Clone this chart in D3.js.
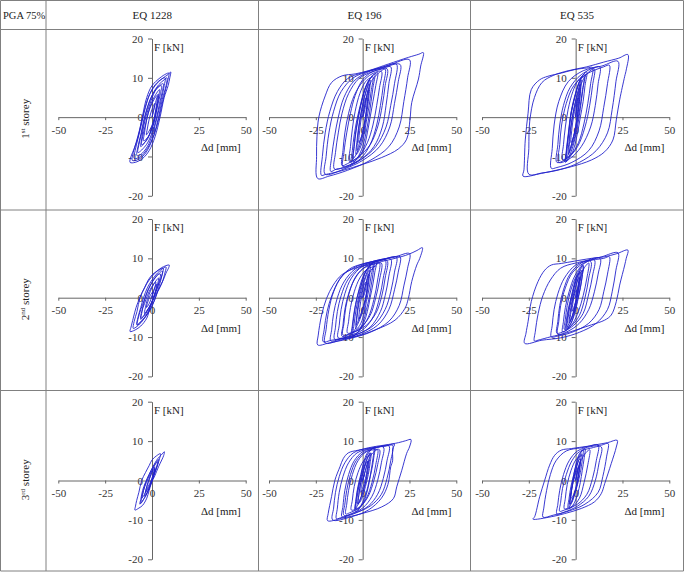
<!DOCTYPE html>
<html><head><meta charset="utf-8">
<script src="https://cdn.jsdelivr.net/npm/d3@7"></script>
<style>
html,body{margin:0;padding:0;background:#fff;}
svg{display:block;}
</style></head>
<body>
<script>
// ---------- data ----------
const cornerLabel = "PGA 75%";
const columns = ["EQ 1228", "EQ 196", "EQ 535"];
const rowNums = ["1", "2", "3"];
const rowSups = ["st", "nd", "rd"];
const xTicks = [-50, -25, 0, 25, 50];
const yTicks = [-20, -10, 0, 10, 20];
const xLabel = "Δd [mm]";
const yLabel = "F [kN]";

// hysteresis paths [Δd mm, F kN]
const s1_eq1228 = [[0,0],[1.5,3],[3,5.5],[2.5,3.5],[1.5,0.5],[0,-2.5],[-2,-5],[-4.5,-6],[-4,-4],[-3,-1],[-1.5,2],[0.5,4.5],[4,7],[3.5,5],[2.5,2],[1,-1.5],[-1.5,-4.5],[-4,-6.5],[-6,-7.5],[-5.5,-5.5],[-4.5,-2.5],[-3,0.5],[-1,3.5],[1.5,6.5],[4,8],[6,8.5],[5.5,6.5],[4,3.5],[2.5,0],[0,-4],[-3,-7],[-7.5,-9],[-7,-7],[-5.5,-4],[-4,-0.5],[-2,3],[0.5,6],[3.5,8.2],[6.5,9.5],[8,10],[7.5,8],[5.5,4.5],[3.5,0],[1,-4.5],[-2.5,-8],[-6,-10],[-9.5,-10.5],[-9,-8.5],[-7.5,-5.5],[-5.5,-1.5],[-3.5,2.5],[-1,6],[2.5,8.5],[6,10],[8.5,10.8],[10,11.5],[9.5,10],[8.6,8],[6.5,5],[4.3,0],[1.6,-5],[-1.5,-8.5],[-5,-10.5],[-9,-11.5],[-11.7,-11.5],[-11.2,-10],[-9.5,-8],[-7.4,-5],[-5.2,0],[-2.8,5],[0,8],[4.3,10],[7.5,11],[9,11.2],[8.5,9.5],[7,6.5],[5,2.5],[2.5,-2.5],[-0.5,-6.5],[-4,-9.5],[-7.5,-10.8],[-10.5,-11],[-10,-9],[-8.5,-6.5],[-6.5,-3],[-4.5,1],[-2,5],[1,7.8],[4.5,9.5],[7,10],[6.5,8],[5,4.5],[3,0.5],[0.5,-4],[-2.5,-7.5],[-6,-9.5],[-8,-9.8],[-7.5,-7.5],[-6,-4.5],[-4.5,-1],[-2.5,2.5],[0,5.5],[3,7.5],[5,8],[4.5,6],[3,3],[1.5,-0.5],[-0.5,-3.5],[-3,-6],[-5.5,-7],[-5,-5],[-3.5,-2],[-2,1],[0,3.5],[2.5,5.5],[3.5,5.8],[3,4],[2,1.5],[0.5,-1.5],[-1.5,-3.5],[-3,-4.5],[-2.5,-3],[-1.5,-0.5],[0,2],[1.5,3.5],[1,2],[0,0]];

const s1_eq196_core = [[0,0],[1.5,4],[3,7],[2.5,4],[1.5,0],[0,-4],[-2,-7],[-3,-8.5],[-2.5,-5],[-1.5,-1],[0,3],[2,7],[4,9.5],[3.5,6],[2.5,2],[1,-2.5],[-1,-6.5],[-3.5,-9.5],[-5,-10.5],[-4.5,-7],[-3.5,-3],[-2,1],[0,5],[2.5,8.5],[5,10.5],[6.5,11],[5.5,7.5],[4.5,4],[3.5,0.5],[2,-3.5],[0,-7.5],[-3,-10.5],[-6,-11.8],[-5.5,-8.5],[-4.5,-4.5],[-3,-0.5],[-1,3.5],[1,7],[3.5,9.5],[6,10.8],[8,11.3],[7,8],[5.5,4],[4,0],[2.5,-4],[0.5,-8],[-2.5,-10.5],[-5,-11.3],[-4.5,-7.5],[-3.5,-3.5],[-2,0.5],[-0.5,4],[1.5,7.5],[4,9.8],[5.5,10.3],[4.5,6.5],[3.5,3],[2,-1],[0.5,-5],[-1.5,-8],[-3.5,-9.5],[-3,-6],[-2,-2],[-0.5,2],[1.5,6],[3.5,8.5],[3,5.5],[2,1.5],[0.5,-2.5],[-1,-5.5],[-2,-6.5],[-1.5,-3],[-0.5,0.5],[1,4],[2,5],[1,1.5],[0,0]];
const s1_eq196 = [[0,0],[2,5],[4.5,9],[8,11],[12,12.2],[11,8],[9.5,3],[7.5,-2],[4,-7],[-1,-10.5],[-7,-12.2],[-10.5,-12.6],[-10,-9],[-8.5,-4],[-6.5,1],[-4,5.5],[0,9.5],[5,11.5],[10,12.2],[15,12.8],[14,8.5],[12.5,3],[10.5,-2.5],[6,-7.5],[-1,-10.8],[-9,-12.8],[-14,-13.2],[-17,-13.8],[-16.5,-10],[-15,-5],[-13,0],[-10,5],[-5,9],[2,11.3],[11,12.6],[20,13.4],[19,9],[17,3.5],[14.5,-2.5],[9,-7.5],[0,-11],[-10,-13.2],[-20,-14.5],[-19.5,-10],[-18,-4],[-15.5,1.5],[-11.5,6.5],[-5,10],[4,11.8],[14,13.2],[25,14.6],[24,10],[22,4],[19.5,-2.5],[14,-7.5],[4,-11],[-8,-13.5],[-18,-15],[-24,-15.6],[-24.6,-10],[-24.4,-5],[-23.4,0],[-20,5.4],[-16.6,8.8],[-11,10.5],[-4,11],[3,11.8],[13.7,13.5],[24.4,15.2],[30,16],[32.4,16.4],[31,13],[29.8,9.7],[26.2,3.7],[25.3,-0.5],[23.5,-5.6],[19,-8.1],[10,-10.3],[0,-12],[-11,-13.6],[-20,-14.6],[-22,-14.8],[-21.5,-10],[-20,-4],[-17.5,1.5],[-13.5,6.5],[-8,9.8],[0,11.3],[10,12.6],[18,13.5],[17,8.5],[15,3],[12.5,-2.5],[7,-7.5],[-1,-10.8],[-9,-12.5],[-15,-13.2],[-14.5,-9],[-13,-4],[-11,1],[-7.5,6],[-2,9.8],[5,11.5],[13,12.3],[12,8],[10.5,3],[8,-2.5],[4,-7],[-2,-10],[-8,-11.8],[-11,-12.3],[-10.5,-8.5],[-9.5,-4],[-7.5,1],[-4.5,5.5],[0,9],[5,11],[10,11.6],[9,7.5],[7.5,3],[5.5,-2],[2.5,-6.5],[-2,-10],[-7,-11.3],[-6.5,-7.5],[-5.5,-3],[-4,1.5],[-1.5,6],[1.5,9],[4,10]];

const s1_eq535_core = [[0,0],[1,4],[2.5,7.5],[2,4],[1,0],[-0.5,-4],[-2.5,-7.5],[-3.5,-9],[-3,-5],[-2,-1],[-0.5,3],[1.5,7],[3,9.5],[2.5,6],[1.5,2],[0,-2.5],[-2,-6.5],[-4,-9.5],[-5,-10.5],[-4.5,-7],[-3.5,-3],[-2.5,1],[-0.5,5],[1.5,8.5],[3.5,10.5],[5,11],[4,7.5],[3,4],[2,0.5],[0.5,-3.5],[-1.5,-7.5],[-3.5,-10],[-5.5,-11.5],[-5,-8.5],[-4,-4.5],[-3,-0.5],[-1.5,3.5],[0.5,7],[2.5,9.5],[4.5,11],[6,11.5],[5,8],[4,4],[2.5,0],[1,-4],[-1,-8],[-3.5,-10.5],[-5,-11.3],[-4.5,-7.5],[-3.5,-3.5],[-2.5,0.5],[-1,4],[1,7.5],[3,9.8],[4.5,10.3],[3.5,6.5],[2.5,3],[1,-1],[-0.5,-5],[-2.5,-8],[-4,-9.5],[-3.5,-6],[-2.5,-2],[-1,2],[1,6],[2.5,8.5],[2,5.5],[1,1.5],[0,-2.5],[-1.5,-5.5],[-2.5,-6.5],[-2,-3],[-1,0.5],[0.5,4],[1.5,5],[0.5,1.5],[0,0]];
const s1_eq535 = [[0,0],[1,5],[3,8.5],[6,11],[10,12.3],[9,8],[7.5,3],[5,-2.5],[1,-7.5],[-4,-10.3],[-10,-11.5],[-9.5,-7],[-8.5,-2],[-6.5,3],[-3,7.5],[3,10.8],[12.8,12.8],[12,8.5],[10.5,3],[8,-2.5],[3,-7.5],[-3,-10.5],[-9,-11.5],[-8.5,-7],[-7.5,-2],[-5,3.5],[-1,8],[6,11],[15,12.8],[18,13.2],[17,8.5],[15,2.5],[12.5,-3.5],[7,-8.5],[-2,-11.5],[-10,-12.8],[-13,-13],[-12.5,-8],[-11.5,-2],[-9,4],[-4,9],[4,11.8],[14,13],[22.6,14.2],[21.5,9],[19.5,2],[17,-4],[11,-8.5],[2,-11.5],[-8,-13.3],[-18,-14.2],[-25,-14.5],[-25,-8],[-24.5,-1],[-22,5],[-18,8.8],[-12,10.6],[-4,11.8],[6,12.8],[15,14],[23,15],[27.9,15.9],[27,12],[26.2,10.4],[23.5,4.4],[21.7,-0.7],[19.9,-5.8],[15.5,-8.8],[8.4,-10.9],[-2.3,-12.6],[-9.4,-13.4],[-18.3,-14.3],[-28.1,-15],[-27.6,-13.4],[-26.9,-5.8],[-25.4,1],[-23.7,7],[-19.2,9.5],[-14.8,10.4],[-7.7,11.2],[-0.5,12.1],[6,12.5],[9,12.6],[8,8.5],[6.5,3.5],[4.5,-1.5],[1.5,-6.5],[-2.5,-9.5],[-7,-10.8],[-6.5,-7],[-5.5,-2.5],[-4,2],[-1.5,6.5],[1.5,9.5],[4,10.5]];

const s2_eq1228 = [[0,0],[1,2],[2.5,3.5],[2,2],[0.5,-0.5],[-1.5,-2.5],[-4,-4],[-3.5,-2.5],[-2.5,-0.5],[-1,1.5],[1,3.5],[3.5,5],[3,3.5],[1.5,1],[-0.5,-1.5],[-3,-3.5],[-6,-5.5],[-5.5,-4],[-4.5,-1.5],[-3,1],[-0.5,3.5],[2.5,5.5],[5.5,6.8],[5,5],[3.5,2.5],[1.5,-0.5],[-1,-3],[-4,-5],[-8,-6.8],[-7.5,-5],[-6,-2.5],[-4.5,0],[-2.5,2.5],[0,4.5],[3,6.3],[6,7.5],[7.5,7.8],[7,6.5],[5.5,4],[3,1.5],[1,-1],[-1.5,-3.5],[-4.5,-5.5],[-8,-7.3],[-10,-7.8],[-9.5,-6],[-8,-3.5],[-6.4,0],[-4,2.5],[-1.5,4.5],[1.5,6.2],[5,7.6],[9.2,8.3],[8.8,7.5],[7.8,6.6],[6,4.5],[3.5,2],[1.1,0],[-1,-2.5],[-2.8,-5.2],[-6,-7.2],[-9,-8.2],[-11.7,-8.6],[-11.2,-7.5],[-10,-5.2],[-8.5,-2.5],[-6.5,0],[-4,2.5],[-2,4.5],[0.5,6],[3.5,7],[6,7.5],[5.5,6],[4,4],[2,1.5],[0,-1],[-2,-3.5],[-5,-5.8],[-8,-7],[-7.5,-5.5],[-6,-3],[-4,-0.5],[-2,2],[0.5,4.3],[3,5.8],[4.5,6],[4,4.5],[2.5,2],[0.5,-0.5],[-1.5,-2.5],[-4,-4.5],[-6,-5.2],[-5.5,-3.5],[-4,-1.5],[-2.5,0.5],[-0.5,2.5],[2,4],[1.5,2.5],[0,0.5],[-1.5,-1.5],[-3,-2.5],[-2.5,-1.5],[-1,0.5],[0.5,1.5],[0,0]];

const s2_eq196_core = [[0,0],[1.5,3],[3,6],[2.5,3],[1.5,-0.5],[-0.5,-3.5],[-2.5,-6],[-3.5,-7],[-3,-4],[-2,-0.5],[-0.5,2.5],[1.5,5.5],[4,8],[3.5,5],[2.5,1.5],[1,-2],[-1.5,-5.5],[-4,-8],[-5.5,-9],[-5,-6],[-4,-2.5],[-2.5,1],[-0.5,4.5],[2,7],[4.5,8.5],[6,9],[5.5,6],[4.5,3],[3.5,0],[2,-3],[0,-6.5],[-3,-9],[-6,-10],[-5.5,-7],[-4.5,-3.5],[-3,0],[-1,3],[1,6],[3.5,8],[6,9],[7.5,9.3],[6.5,6.5],[5.5,3.5],[4,0],[2.5,-3.5],[0.5,-6.5],[-2.5,-8.8],[-5,-9.5],[-4.5,-6.5],[-3.5,-3],[-2,0.5],[-0.5,3.5],[1.5,6.5],[4,8.2],[5.5,8.5],[4.5,5.5],[3.5,2.5],[2,-1],[0.5,-4.5],[-1.5,-7],[-3.5,-8],[-3,-5],[-2,-1.5],[-0.5,1.5],[1.5,5],[3.5,7],[3,4.5],[2,1],[0.5,-2],[-1,-4.5],[-2,-5.5],[-1.5,-2.5],[-0.5,0.5],[1,3.5],[2,4],[1,1],[0,0]];
const s2_eq196 = [[0,0],[2,4],[4.5,7],[9,8.8],[8,4.5],[6,-0.5],[3,-5],[-1,-7.8],[-6,-9],[-10.5,-9.5],[-10,-6.5],[-9,-2.5],[-7,1.5],[-3.5,5.5],[2,8],[12,9.5],[11,5],[9,0],[6,-4.5],[1,-7.8],[-5,-9.3],[-13,-10.2],[-12.5,-7],[-11.5,-3],[-9.5,1],[-6,5],[0,8],[8,9.2],[15,9.8],[14,5.5],[12,0.5],[9.5,-3.5],[4,-7.5],[-4,-9.5],[-12,-10.5],[-17,-11],[-16.5,-8],[-15.5,-4],[-13.5,0],[-10,4],[-4,7.3],[6,9.3],[16,10.2],[20,10.4],[19,6.5],[17,2],[14,-3],[8,-7],[-2,-9.5],[-12,-10.8],[-20,-11.5],[-19.5,-8],[-18,-3],[-15.5,1.5],[-11,5.5],[-3,8],[8,9.5],[18,10.5],[25,11.2],[24,7.5],[22,3],[19.5,-2],[14,-6],[4,-8.8],[-8,-10.5],[-18,-11.5],[-24,-12],[-23.7,-9.5],[-21.9,-4.4],[-19.3,-0.2],[-15.7,3.2],[-11.2,5.8],[-4.1,7.5],[3,8.3],[10.2,9.2],[17.3,10],[24.4,11],[29,12],[31.9,12.7],[30.5,10],[28.9,8.3],[26.2,4.1],[24.4,-0.2],[22.6,-2.7],[17.3,-5.7],[6.6,-8.2],[-4.1,-9.9],[-16.6,-10.8],[-21,-11.2],[-20.5,-8],[-19,-3.5],[-16.5,0.5],[-12.5,4.5],[-7,7.3],[0,8.6],[10,9.6],[18,10.3],[17,6.5],[15,1.5],[12,-3],[6,-7],[-3,-9.3],[-12,-10.4],[-15,-10.5],[-14.5,-7.5],[-13.5,-3.5],[-11.5,0.5],[-8,4.5],[-2,7.5],[6,9],[13,9.5],[12,5],[10,0],[7,-4],[2,-7],[-5,-8.8],[-11,-9.8],[-10.5,-7],[-9.5,-3],[-7.5,1],[-4.5,4.5],[0,7.3],[6,8.5],[10,8.8],[9,4.5],[7,0],[4,-4.5],[-1,-7.5],[-8,-9],[-7.5,-6],[-6.5,-2.5],[-4.5,1.5],[-1.5,5],[2.5,7.3],[7,8]];

const s2_eq535_core = [[0,0],[1,2.5],[2,5],[1.5,2.5],[0.5,-0.5],[-1,-3.5],[-2.5,-5.5],[-3.5,-6.5],[-3,-4],[-2,-1],[-0.5,2],[1,4.5],[2.5,6.5],[2,4],[1,1],[-0.5,-2],[-2,-5],[-4,-7],[-5,-7.8],[-4.5,-5.5],[-3.5,-2.5],[-2,0.5],[-0.5,3.5],[1.5,6],[3,7.5],[4,8],[3.5,5.5],[2.5,2.5],[1,-0.5],[-0.5,-3.5],[-2.5,-6.5],[-4.5,-8],[-5.5,-8.3],[-5,-6],[-4,-3],[-2.5,0],[-1,3],[0.5,5.5],[2.5,7.5],[4,8.3],[3.5,5.5],[2.5,2.5],[1,-1],[-0.5,-4],[-2.5,-6.5],[-4.5,-7.5],[-4,-5],[-3,-2],[-1.5,1],[0,4],[2,6.5],[3,7],[2.5,4.5],[1.5,1.5],[0,-1.5],[-1.5,-4.5],[-3,-6],[-2.5,-3.5],[-1.5,-0.5],[0,2.5],[1.5,5],[2,5.3],[1.5,3],[0.5,0],[-1,-2.5],[-2,-3.5],[-1.5,-1.5],[-0.5,1],[0.5,2],[0,0]];
const s2_eq535 = [[0,0],[2,4],[4.5,7.5],[7,8.8],[6,5],[4,0.5],[1.5,-3.5],[-1.5,-6.5],[-5,-8.3],[-7,-8.7],[-6.5,-6],[-5.5,-2.5],[-3.5,1.5],[-0.5,5.5],[4,8.5],[10,9.6],[9,5.5],[7,1],[4,-4],[-1,-7],[-6,-8.5],[-10,-9],[-9.5,-6],[-8.5,-2],[-6.5,2],[-3,6],[3,8.8],[13,10],[12,6],[10,1.5],[7,-3],[2,-6.5],[-4,-8.5],[-9.5,-9.3],[-9,-6],[-8,-2],[-5.5,2.5],[-1.5,6.5],[6,9.2],[15,10],[18,10.4],[17,6],[15,1.5],[12.5,-3],[7,-6.5],[-2,-8.8],[-10,-9.8],[-13,-10],[-12.5,-7],[-11.5,-3],[-9.5,1],[-6,5],[0,8.3],[8,9.6],[14,10.4],[22.6,11.4],[21.5,7],[19.5,1.5],[17,-3],[11,-6.5],[2,-8.8],[-8,-10.2],[-18,-10.8],[-27.2,-11.6],[-26.5,-9],[-25.4,-6.1],[-23.7,-1],[-20.1,4.1],[-16.5,7],[-13,8.3],[-7.7,8.7],[-0.5,9.3],[8.4,10],[15.5,10.4],[22,11.2],[27.9,12.1],[27,10],[26.2,8.3],[23.5,3.2],[21.7,-1],[19,-4.4],[15.5,-5.7],[8.4,-6.9],[-5.9,-9.1],[-13,-9.9],[-20.1,-10.8],[-22,-11],[-21.5,-8.5],[-20,-4],[-17.5,0.5],[-13.5,4.5],[-8,7.5],[0,8.8],[8,9.2],[7,5],[5,0],[2,-4.5],[-2,-7],[-6,-8],[-5.5,-5.5],[-4.5,-2],[-2.5,2],[0.5,5.5],[4,7]];

const s3_eq1228 = [[0,0],[0.5,1.5],[1.5,3],[1,1.5],[-0.5,-0.5],[-2,-2],[-3.5,-3],[-3,-2],[-2,-0.5],[-0.5,1.5],[1.5,3.5],[1,2],[-0.5,0],[-2,-1.5],[-4,-3.5],[-5.5,-4.5],[-5,-3.5],[-4,-1.5],[-2.5,0.5],[-0.5,2.5],[2,4.5],[3.5,5.3],[3,4],[1.5,2],[0,0],[-1.5,-2],[-3.5,-4],[-6.5,-6],[-6,-4.8],[-5,-2.5],[-3.5,-0.5],[-1.5,1.5],[0.5,3.5],[3,5.5],[5,6.5],[6.6,7.3],[6.2,6.3],[5.2,5.2],[3.5,3.5],[1.5,1.2],[-0.2,-0.5],[-1.5,-2.5],[-2.8,-4.5],[-5,-6.3],[-7,-7],[-9.1,-7.5],[-8.8,-6.5],[-8.2,-5.1],[-7,-3],[-5.5,0],[-3.5,2],[-1.5,3.8],[0,5.2],[2.5,6.3],[4.5,6.8],[4,5.5],[3,4],[1.5,2],[0,0],[-1.5,-2],[-3.5,-4],[-6,-5.8],[-5.5,-4.5],[-4.5,-2.5],[-3,-0.5],[-1,1.5],[1,3.5],[3,4.8],[2.5,3.5],[1,1.5],[-0.5,-0.5],[-2,-2.5],[-4,-4],[-3.5,-3],[-2.5,-1],[-1,1],[0.5,2.5],[1.5,3],[1,1.5],[0,0],[-1,-1],[-0.5,-0.5],[0,0]];

const s3_eq196_core = [[0,0],[1.5,2.5],[3,5],[2.5,2.5],[1.5,-0.5],[0,-3],[-1.5,-5],[-2.5,-6],[-2,-3.5],[-1,-0.5],[0.5,2.5],[2,5],[4,7],[3.5,4.5],[2.5,1.5],[1,-1.5],[-1,-4.5],[-3,-6.5],[-4,-7.3],[-3.5,-4.5],[-2.5,-1.5],[-1,1.5],[0.5,4.5],[2.5,7],[5,8],[6,8.3],[5.5,5.5],[4.5,2.5],[3.5,-0.5],[2,-3.5],[0,-6],[-2.5,-7.5],[-4,-7.8],[-3.5,-5],[-2.5,-2],[-1,1],[0.5,4],[2.5,6.5],[4.5,7.8],[6.5,8.5],[6,6],[5,3],[3.5,0],[2,-3],[0,-5.5],[-2,-7],[-3.5,-7.3],[-3,-4.5],[-2,-1.5],[-0.5,1.5],[1.5,4.5],[3.5,6.5],[4.5,7],[4,4.5],[3,1.5],[1.5,-1.5],[0,-4],[-1.5,-5.5],[-2.5,-6],[-2,-3.5],[-1,-0.5],[0.5,2.5],[2,4.5],[3,5],[2.5,3],[1.5,0.5],[0,-2],[-1,-3],[-0.5,-1],[0.5,1],[1,1.5],[0,0]];
const s3_eq196 = [[0,0],[2,3.5],[4.5,6.5],[8,7.8],[7,4],[5,-0.5],[2,-4.5],[-2,-7],[-7,-8.2],[-9,-8.5],[-8.5,-6],[-7.5,-2.5],[-5.5,1.5],[-2.5,5],[2,7.3],[11,8.5],[10,4.5],[8,0],[5,-4],[0,-7],[-6,-8.4],[-11,-9.2],[-10.5,-6.5],[-9.5,-2.5],[-7.5,1.5],[-4.5,5],[0,7.3],[7,8.3],[14,8.8],[13,5],[11,0.5],[8,-3.5],[3,-6.5],[-5,-8.5],[-12,-9.5],[-14,-9.7],[-13.5,-7],[-12.5,-3],[-10.5,1],[-7.5,4.5],[-3,7],[4,8.1],[12,8.8],[17,9.2],[16,8],[16,5],[15,3.5],[13.5,-1],[10,-4.5],[3,-7.5],[-6,-9.2],[-16,-10],[-15.5,-7],[-14.5,-3],[-12.5,1],[-9.5,4.5],[-5,7],[3,8.3],[12,9],[19.1,9.6],[23,10.1],[25.8,10.4],[25,8.5],[23.5,6.9],[20.9,2.6],[18.2,-1.6],[16.4,-4.6],[10.2,-6.7],[-0.5,-8.4],[-11.2,-9.6],[-18.7,-10.2],[-18.4,-8.4],[-16.6,-4.1],[-14.8,0.1],[-12.1,3.5],[-10.3,5.6],[-7.7,7],[-2.3,7.7],[4.8,8.3],[11.9,8.7],[16,8.9],[15,5],[13,0.5],[10,-3.5],[4,-6.5],[-4,-8.2],[-10,-8.8],[-9.5,-6],[-8.5,-2.5],[-6.5,1.5],[-3.5,5],[1,7.2],[6,7.8],[9,7.8],[8,4],[6,0],[3,-4],[-1,-6.5],[-6,-7.5],[-5.5,-5],[-4.5,-1.5],[-2.5,2],[0.5,5],[4,6.5]];

const s3_eq535_core = [[0,0],[1,2.5],[2.5,5],[2,2.5],[1,-0.5],[-0.5,-3],[-2,-5],[-3,-6],[-2.5,-3.5],[-1.5,-0.5],[0,2.5],[1.5,5],[3,6.8],[2.5,4.5],[1.5,1.5],[0.5,-1.5],[-1,-4],[-2.5,-6],[-3.5,-6.8],[-3,-4.5],[-2,-1.5],[-1,1.5],[0.5,4.5],[2,6.8],[4,7.8],[5,8.1],[4.5,5.5],[3.5,2.5],[2.5,-0.5],[1,-3.5],[-0.5,-5.5],[-2.5,-6.8],[-4,-7],[-3.5,-4.5],[-2.5,-1.5],[-1,1.5],[0.5,4.5],[2.5,6.8],[4,7.8],[3.5,5],[2.5,2],[1,-1],[-0.5,-3.5],[-2,-5.5],[-3,-6],[-2.5,-3.5],[-1.5,-0.5],[0,2.5],[1.5,5],[2.5,5.5],[2,3],[1,0.5],[0,-2],[-1.5,-4],[-2.5,-4.5],[-2,-2],[-0.5,1],[1,3],[1.5,3.5],[0.5,1],[0,0]];
const s3_eq535 = [[0,0],[2,4],[4.5,6.5],[7.5,7.8],[6.5,4],[4.5,-0.5],[2,-4.5],[-2,-6.8],[-6,-7.5],[-8.5,-7.8],[-8,-5.5],[-7,-2],[-5,1.5],[-2,5],[2,7.3],[8,8.2],[13.7,8.5],[12.5,4.5],[10.5,0],[7,-4],[1,-6.5],[-6,-8],[-10,-8.5],[-9.5,-6],[-8.5,-2.5],[-6.5,1.5],[-3.5,5],[1,7.5],[8,8.6],[14,9],[17.3,9.4],[16.5,6],[14.5,1],[12,-3],[5,-6],[-4,-7.8],[-12,-8.8],[-17.4,-9.3],[-17,-7],[-15.5,-2.5],[-13.5,1.5],[-10.5,5],[-5,7.5],[3,8.3],[10,9],[17,9.6],[22.2,10.2],[21.7,8.5],[19,4.3],[15.5,-0.8],[13.7,-3.3],[10.1,-5.4],[3,-7.1],[-5.9,-8.4],[-13,-9.2],[-22.8,-9.8],[-21.9,-9.2],[-19.2,-4.1],[-16.5,0.1],[-13.9,3.9],[-11.2,6.4],[-7.7,7.7],[-2.3,8.1],[6.6,8.7],[12,9],[11,5],[9,0.5],[6,-3.5],[1,-6],[-4,-7],[-6,-7.2],[-5.5,-4.5],[-4.5,-1],[-2.5,2.5],[0.5,5.5],[4,6.5]];

const panels = [
  [[s1_eq1228], [s1_eq196_core, s1_eq196], [s1_eq535_core, s1_eq535]],
  [[s2_eq1228], [s2_eq196_core, s2_eq196], [s2_eq535_core, s2_eq535]],
  [[s3_eq1228], [s3_eq196_core, s3_eq196], [s3_eq535_core, s3_eq535]]
];

// ---------- layout ----------
const W = 685, H = 574;
const FONT = "'Liberation Serif','Times New Roman',Times,serif";
const colX = [[58.3, 245.7], [269, 456.3], [482, 669.3]];
const rowY = [[195.8, 38.5], [376.4, 219], [559.3, 401.7]];
const tableX = [0.5, 46, 258.5, 470.5, 683.5];
const tableY = [0.5, 29.5, 210, 390.5, 571];

const svg = d3.select("body").append("svg").attr("width", W).attr("height", H)
  .attr("font-family", FONT);

// table grid
const grid = svg.append("g").attr("stroke", "#808080").attr("stroke-width", 1).attr("fill", "none");
tableX.forEach(x => grid.append("line").attr("x1", x).attr("x2", x).attr("y1", tableY[0]).attr("y2", tableY[4]));
tableY.forEach(y => grid.append("line").attr("x1", tableX[0]).attr("x2", tableX[4]).attr("y1", y).attr("y2", y));

// header
svg.append("text").attr("x", 3).attr("y", 19).attr("font-size", 10.5).attr("fill", "#222").text(cornerLabel);
columns.forEach((c, i) => {
  svg.append("text").attr("x", (tableX[i + 1] + tableX[i + 2]) / 2).attr("y", 19)
    .attr("text-anchor", "middle").attr("font-size", 11).attr("fill", "#222").text(c);
});

// row labels
rowNums.forEach((n, r) => {
  const cy = (tableY[r + 1] + tableY[r + 2]) / 2 - 1;
  const t = svg.append("text").attr("transform", `translate(29,${cy}) rotate(-90)`)
    .attr("text-anchor", "middle").attr("font-size", 11).attr("fill", "#222");
  t.append("tspan").text(n);
  t.append("tspan").attr("font-size", 7).attr("dy", -4).text(rowSups[r]);
  t.append("tspan").attr("dy", 4).text(" storey");
});

// panels
panels.forEach((row, r) => {
  row.forEach((paths, c) => {
    const x = d3.scaleLinear().domain([-50, 50]).range(colX[c]);
    const y = d3.scaleLinear().domain([-20, 20]).range(rowY[r]);
    const g = svg.append("g");

    const ya = g.append("g").attr("transform", `translate(${x(0)},0)`)
      .call(d3.axisLeft(y).tickValues(yTicks).tickSize(4).tickSizeOuter(0).tickPadding(5).tickFormat(d => String(d)));
    const xa = g.append("g").attr("transform", `translate(0,${y(0)})`)
      .call(d3.axisBottom(x).tickValues(xTicks).tickSize(3).tickSizeOuter(0).tickPadding(6).tickFormat(d => String(d)));
    [ya, xa].forEach(a => {
      a.attr("font-family", FONT).attr("font-size", 11);
      a.selectAll("path,line").attr("stroke", "#666");
      a.selectAll("text").attr("fill", "#333");
    });

    g.append("text").attr("x", x(0) + 2).attr("y", y(20) + 12)
      .attr("font-size", 11).attr("fill", "#222").text(yLabel);
    g.append("text").attr("x", x(50) - 5).attr("y", y(0) + 34)
      .attr("text-anchor", "end").attr("font-size", 11).attr("fill", "#222").text(xLabel);

    const line = d3.line().x(d => x(d[0])).y(d => y(d[1])).curve(d3.curveCatmullRom.alpha(0.5));
    paths.forEach(pts => {
      g.append("path").datum(pts).attr("d", line)
        .attr("fill", "none").attr("stroke", "#2222cc").attr("stroke-width", 0.9)
        .attr("stroke-linejoin", "round");
    });
  });
});
</script>
</body></html>
